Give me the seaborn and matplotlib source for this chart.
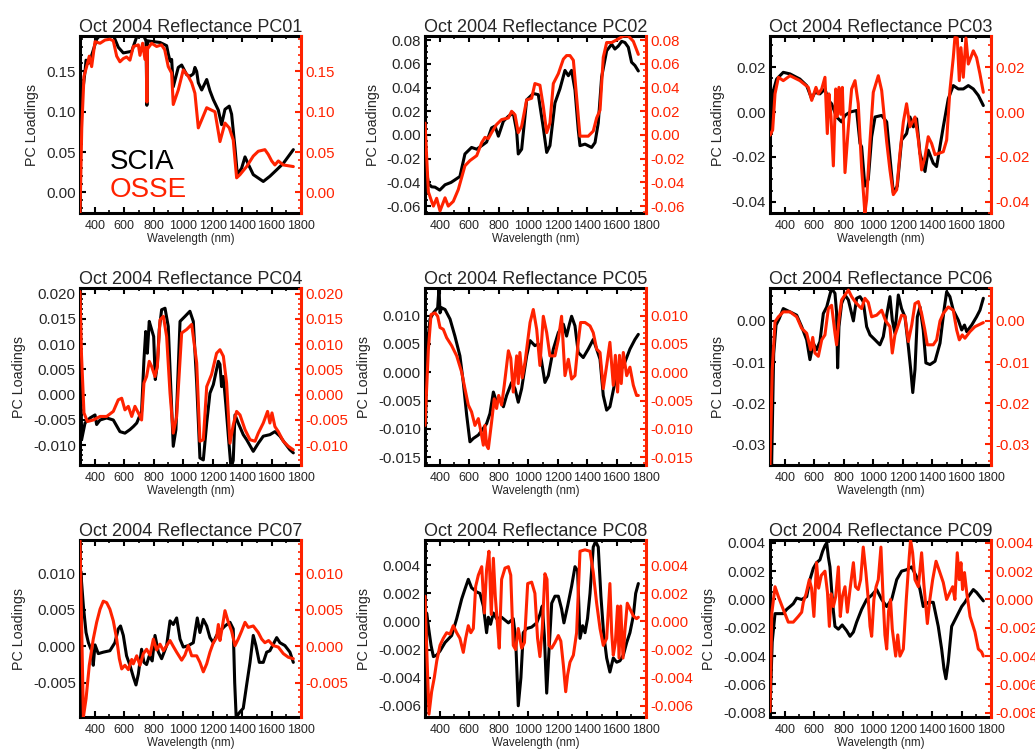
"""
Oct 2004 reflectance PC loadings: SCIA vs OSSE (3x3 panels)
"""
import matplotlib
matplotlib.use("Agg")
import matplotlib.pyplot as plt
from matplotlib.ticker import MultipleLocator, FuncFormatter
import seaborn as sns

sns.set_theme(style="ticks")
plt.rcParams["font.family"] = ["Liberation Sans", "DejaVu Sans"]
plt.rcParams["axes.unicode_minus"] = False

RED = "#FF2200"

# ── data ─────────────────────────────────────────────────────────────────────
PC01_SCIA_WL = [300, 310, 322, 334, 341, 357, 379, 413, 436, 526, 560, 594, 651, 662, 685, 730, 748, 754,
                759, 798, 843, 888, 899, 911, 922, 933, 967, 990, 1024, 1046, 1069, 1080, 1092, 1103, 1126,
                1160, 1182, 1205, 1239, 1261, 1284, 1313, 1329, 1352, 1368, 1397, 1420, 1442, 1476, 1544,
                1589, 1635, 1680, 1748]
PC01_SCIA = [0.100, 0.125, 0.131, 0.150, 0.164, 0.160, 0.170, 0.190, 0.195, 0.195, 0.180, 0.173, 0.175,
             0.181, 0.193, 0.195, 0.188, 0.108, 0.188, 0.187, 0.186, 0.182, 0.172, 0.163, 0.165, 0.131,
             0.155, 0.158, 0.146, 0.144, 0.147, 0.155, 0.150, 0.136, 0.127, 0.140, 0.126, 0.115, 0.102,
             0.084, 0.103, 0.107, 0.097, 0.055, 0.022, 0.030, 0.044, 0.035, 0.022, 0.0135, 0.020, 0.028,
             0.036, 0.053]
PC01_OSSE_WL = [300, 312, 327, 345, 363, 379, 402, 436, 470, 503, 526, 549, 571, 594, 616, 639, 662, 696,
                707, 725, 741, 750, 754, 758, 786, 820, 853, 875, 899, 922, 933, 967, 1001, 1035, 1058,
                1080, 1103, 1126, 1160, 1193, 1216, 1250, 1284, 1313, 1340, 1363, 1386, 1431, 1476, 1510,
                1555, 1578, 1601, 1623, 1646, 1680, 1748]
PC01_OSSE = [-0.026, 0.080, 0.144, 0.156, 0.169, 0.156, 0.187, 0.185, 0.189, 0.190, 0.188, 0.169, 0.162,
             0.166, 0.168, 0.164, 0.181, 0.183, 0.170, 0.185, 0.165, 0.180, 0.112, 0.178, 0.185, 0.181,
             0.183, 0.177, 0.156, 0.148, 0.109, 0.127, 0.152, 0.144, 0.136, 0.123, 0.080, 0.090, 0.105,
             0.102, 0.100, 0.063, 0.086, 0.080, 0.065, 0.018, 0.022, 0.032, 0.045, 0.051, 0.053, 0.047,
             0.039, 0.034, 0.039, 0.034, 0.032]

PC02_SCIA_WL = [310, 323, 345, 368, 400, 436, 477, 537, 571, 616, 651, 685, 718, 752, 775, 798, 832, 866,
                899, 922, 933, 956, 990, 1035, 1069, 1103, 1126, 1148, 1182, 1216, 1250, 1273, 1295, 1318,
                1340, 1352, 1386, 1431, 1454, 1476, 1499, 1533, 1567, 1589, 1612, 1635, 1657, 1680, 1702,
                1725, 1748]
PC02_SCIA = [-0.030, -0.041, -0.0437, -0.044, -0.0465, -0.042, -0.040, -0.035, -0.016, -0.0105, -0.012,
             -0.009, -0.006, 0.006, 0.0075, -0.001, 0.0116, 0.0158, 0.0185, 0.0033, -0.016, -0.012, 0.0296,
             0.035, 0.034, 0.006, -0.0147, -0.009, 0.027, 0.039, 0.0545, 0.050, 0.0545, 0.038, 0.0047,
             -0.009, -0.0077, -0.0105, -0.0064, 0.0102, 0.049, 0.071, 0.0766, 0.0725, 0.075, 0.079, 0.078,
             0.074, 0.0614, 0.0586, 0.054]
PC02_OSSE_WL = [300, 323, 345, 357, 379, 402, 436, 458, 492, 526, 571, 605, 651, 685, 707, 730, 752, 786,
                820, 866, 888, 911, 933, 956, 990, 1024, 1046, 1080, 1103, 1126, 1148, 1171, 1205, 1239,
                1261, 1284, 1307, 1329, 1352, 1408, 1442, 1465, 1488, 1510, 1533, 1567, 1612, 1646, 1680,
                1714, 1748]
PC02_OSSE = [0.010, -0.048, -0.056, -0.060, -0.0534, -0.064, -0.053, -0.060, -0.056, -0.046, -0.026,
             -0.0216, -0.0174, -0.0064, -0.002, -0.003, 0.002, 0.0089, 0.013, 0.0144, 0.020, 0.017, 0.002,
             0.0075, 0.0296, 0.031, 0.0434, 0.042, 0.024, 0.002, 0.010, 0.0434, 0.0517, 0.064, 0.067,
             0.067, 0.063, 0.032, -0.001, -0.001, 0.0033, 0.0144, 0.021, 0.0655, 0.078, 0.078, 0.081,
             0.0835, 0.0835, 0.079, 0.068]

PC03_SCIA_WL = [300, 323, 345, 390, 436, 503, 549, 583, 605, 639, 673, 696, 718, 752, 786, 809, 843, 888,
                911, 922, 944, 967, 990, 1013, 1058, 1092, 1114, 1137, 1164, 1193, 1227, 1250, 1273, 1295,
                1318, 1352, 1374, 1408, 1431, 1476, 1510, 1544, 1578, 1612, 1646, 1680, 1714, 1748]
PC03_SCIA = [-0.0088, 0.0096, 0.0147, 0.0177, 0.017, 0.0147, 0.0118, 0.0059, 0.0088, 0.0081, 0.0103,
             0.0052, 0.0037, -0.0022, -0.0044, -0.0015, 0.0, 0.0007, -0.014, -0.0155, -0.033, -0.030,
             -0.011, -0.0022, -0.0015, -0.0044, -0.020, -0.036, -0.033, -0.0125, -0.0096, -0.0022, -0.0066,
             -0.003, -0.0184, -0.0265, -0.017, -0.0228, -0.0243, -0.0066, 0.0059, 0.0118, 0.0103, 0.0103,
             0.0118, 0.0103, 0.0074, 0.0029]
PC03_OSSE_WL = [300, 318, 334, 357, 390, 436, 503, 560, 583, 612, 628, 651, 673, 689, 700, 714, 730, 746,
                757, 768, 780, 791, 809, 832, 854, 877, 899, 922, 944, 956, 979, 1001, 1035, 1058, 1092,
                1114, 1137, 1160, 1182, 1205, 1227, 1250, 1284, 1307, 1329, 1352, 1374, 1397, 1420, 1476,
                1499, 1521, 1544, 1555, 1571, 1585, 1596, 1612, 1630, 1646, 1680, 1702, 1725, 1748]
PC03_OSSE = [-0.0103, -0.008, 0.0081, 0.0155, 0.014, 0.0162, 0.014, 0.011, 0.0052, 0.011, 0.0081, 0.0103,
             0.0155, -0.0096, 0.0081, -0.002, -0.024, 0.0103, -0.002, 0.011, -0.001, 0.011, -0.027,
             -0.0066, 0.0103, 0.014, 0.0037, -0.025, -0.045, -0.039, -0.0125, 0.0088, 0.0162, 0.0096,
             -0.0133, -0.0258, -0.0368, -0.0346, -0.0184, -0.0044, 0.0037, -0.0066, -0.0022, -0.0125,
             -0.0258, -0.020, -0.011, -0.014, -0.019, -0.0177, -0.0125, 0.0096, 0.0243, 0.0332, 0.033,
             0.014, 0.0287, 0.0155, 0.033, 0.0214, 0.0273, 0.0243, 0.017, 0.0088]

PC04_SCIA_WL = [300, 311, 334, 368, 402, 413, 436, 481, 526, 571, 605, 639, 662, 685, 718, 734, 746, 757,
                770, 786, 800, 811, 825, 838, 854, 877, 899, 915, 933, 951, 979, 1013, 1046, 1069, 1092,
                1114, 1137, 1160, 1182, 1205, 1239, 1250, 1261, 1273, 1290, 1307, 1325, 1340, 1352, 1374,
                1408, 1431, 1476, 1510, 1544, 1589, 1623, 1657, 1691, 1725, 1748]
PC04_SCIA = [0.0178, -0.0089, -0.0056, -0.0046, -0.004, -0.0059, -0.005, -0.0046, -0.005, -0.0073,
             -0.0076, -0.0069, -0.0063, -0.0056, -0.0033, 0.0069, 0.0125, 0.0082, 0.0145, 0.0129, 0.0115,
             0.003, 0.006, 0.0129, 0.0168, 0.0171, 0.0135, 0.0023, -0.0102, -0.0069, 0.0145, 0.0155, 0.0165,
             0.0145, 0.0023, -0.0125, -0.0129, -0.0056, 0.0003, 0.002, 0.0066, 0.006, 0.0016, 0.0036,
             -0.002, -0.0082, -0.0145, -0.013, -0.004, -0.0056, -0.0079, -0.0089, -0.0112, -0.0096,
             -0.0082, -0.0079, -0.0073, -0.0082, -0.0096, -0.0109, -0.0115]
PC04_OSSE_WL = [300, 310, 327, 350, 390, 436, 481, 526, 560, 583, 605, 628, 651, 673, 696, 718, 734, 752,
                770, 786, 809, 825, 843, 866, 888, 911, 933, 956, 990, 1024, 1058, 1092, 1114, 1137, 1160,
                1193, 1227, 1250, 1273, 1295, 1318, 1340, 1363, 1386, 1420, 1454, 1488, 1510, 1544, 1573,
                1589, 1603, 1623, 1646, 1680, 1714, 1748]
PC04_OSSE = [0.0204, 0.008, -0.0036, -0.0053, -0.005, -0.0043, -0.0043, -0.0033, -0.001, -0.0007, -0.003,
             -0.0023, -0.0043, -0.0023, -0.0036, -0.005, 0.0023, 0.0036, 0.0066, 0.0056, 0.0036, 0.0056,
             0.0148, 0.0155, 0.0115, 0.0003, -0.0076, -0.0043, 0.0122, 0.0129, 0.0139, 0.0063, -0.0092,
             -0.0089, 0.0016, 0.004, 0.0082, 0.0089, 0.0076, 0.0023, -0.0096, -0.006, -0.0033, -0.004,
             -0.0069, -0.0089, -0.0092, -0.0076, -0.0056, -0.0033, -0.0056, -0.0036, -0.0063, -0.0073,
             -0.0092, -0.0102, -0.0109]

PC05_SCIA_WL = [300, 310, 334, 357, 386, 395, 402, 413, 436, 470, 503, 537, 560, 583, 605, 628, 662, 696,
                718, 741, 764, 786, 809, 832, 854, 888, 911, 933, 956, 990, 1013, 1046, 1069, 1092, 1114,
                1137, 1171, 1205, 1239, 1261, 1280, 1295, 1318, 1340, 1374, 1408, 1442, 1465, 1488, 1510,
                1533, 1555, 1589, 1623, 1657, 1691, 1725, 1748]
PC05_SCIA = [-0.0158, 0.003, 0.0094, 0.0105, 0.0114, 0.0149, 0.0105, 0.0114, 0.0111, 0.0094, 0.0064,
             0.0029, -0.0018, -0.0076, -0.0123, -0.0117, -0.0111, -0.0099, -0.0091, -0.0073, -0.0035,
             -0.0053, -0.0047, -0.0061, -0.0041, -0.0018, -0.0029, -0.0053, -0.0029, 0.0029, 0.0056,
             0.0047, 0.0050, 0.0018, -0.0018, -0.0006, 0.0041, 0.007, 0.0085, 0.0064, 0.0085, 0.0099,
             0.0082, 0.0035, 0.0026, 0.0041, 0.0058, 0.0041, 0.0023, -0.0041, -0.0067, -0.0061, -0.0018,
             0.0, 0.0018, 0.0041, 0.0058, 0.0067]
PC05_OSSE_WL = [300, 323, 341, 368, 386, 402, 424, 447, 481, 515, 549, 571, 594, 616, 639, 662, 680, 696,
                707, 718, 730, 752, 770, 786, 800, 820, 838, 866, 882, 899, 922, 933, 944, 960, 979, 1013,
                1035, 1058, 1080, 1103, 1126, 1148, 1182, 1205, 1227, 1250, 1273, 1295, 1318, 1340, 1356,
                1386, 1420, 1442, 1465, 1488, 1510, 1533, 1555, 1578, 1592, 1607, 1620, 1632, 1646, 1669,
                1691, 1714, 1736, 1748]
PC05_OSSE = [-0.0094, 0.0041, 0.0102, 0.0105, 0.0099, 0.0079, 0.0076, 0.0061, 0.0047, 0.0029, 0.0,
             -0.0029, -0.0058, -0.007, -0.0094, -0.0082, -0.0105, -0.0129, -0.0094, -0.0129, -0.0135,
             -0.0088, -0.0047, -0.0064, -0.0041, -0.0058, -0.0023, 0.0038, 0.0025, -0.0035, 0.0029, -0.002,
             0.0035, -0.001, 0.0018, 0.0088, 0.0111, 0.0076, 0.0012, 0.0099, 0.007, 0.0029, 0.0029, 0.0058,
             0.0099, -0.0006, 0.0023, -0.0012, -0.0006, 0.0053, 0.0088, 0.0088, 0.0082, 0.007, 0.0041,
             0.0035, -0.0029, 0.0012, 0.0053, -0.0023, 0.003, -0.0035, 0.003, -0.002, 0.0035, -0.0006,
             0.0009, -0.0023, -0.0041, -0.0041]

PC06_SCIA_WL = [300, 311, 325, 341, 363, 390, 436, 481, 515, 549, 571, 594, 616, 639, 662, 685, 703, 718,
                741, 752, 759, 768, 786, 809, 832, 866, 888, 911, 933, 956, 979, 1013, 1046, 1069, 1092,
                1114, 1130, 1148, 1171, 1193, 1216, 1239, 1255, 1269, 1284, 1300, 1318, 1340, 1358, 1386,
                1420, 1454, 1481, 1499, 1521, 1544, 1578, 1601, 1620, 1635, 1669, 1702, 1725, 1748]
PC06_SCIA = [-0.0262, -0.035, -0.008, -0.001, 0.0006, 0.003, 0.0022, 0.0014, -0.0014, -0.0046, -0.0094,
             -0.0054, -0.007, -0.005, 0.0018, 0.0034, 0.0059, 0.0079, 0.0067, 0.002, -0.0114, -0.0014,
             0.0042, 0.0063, 0.0051, 0.0, 0.0055, 0.0059, 0.0047, -0.0014, -0.0034, -0.0046, -0.0058,
             -0.0038, 0.0014, 0.0059, 0.0002, -0.003, 0.0063, 0.003, 0.001, -0.0062, -0.0118, -0.0174,
             -0.0118, 0.001, 0.0034, -0.0022, -0.0102, -0.0106, -0.0098, -0.0054, 0.0026, 0.0071, 0.0059,
             0.0026, 0.0002, -0.0022, -0.001, -0.0026, -0.001, 0.001, 0.0026, 0.0055]
PC06_OSSE_WL = [300, 315, 334, 357, 390, 436, 481, 515, 549, 576, 590, 605, 628, 651, 673, 696, 718, 741,
                752, 770, 786, 809, 832, 854, 877, 899, 922, 944, 967, 990, 1024, 1058, 1085, 1114, 1130,
                1148, 1171, 1193, 1216, 1239, 1262, 1284, 1307, 1329, 1350, 1368, 1408, 1431, 1454, 1476,
                1510, 1544, 1567, 1585, 1605, 1623, 1657, 1691, 1748]
PC06_OSSE = [-0.035, -0.012, -0.0002, 0.001, 0.0022, 0.0022, 0.001, -0.0018, -0.003, -0.007, -0.004,
             -0.0078, -0.0086, -0.0046, -0.0034, 0.003, 0.0038, -0.003, -0.0058, 0.001, 0.0051, 0.0063,
             0.0075, 0.0059, 0.0047, 0.0038, 0.003, 0.0055, 0.0045, 0.001, 0.0014, 0.0026, 0.0, -0.0014,
             -0.0078, -0.0034, -0.001, 0.0014, 0.0012, -0.005, -0.001, 0.0042, 0.0047, 0.0018, -0.002,
             -0.0058, -0.0058, -0.0046, 0.0, 0.0018, 0.0034, 0.0026, -0.0022, -0.0046, -0.0034, -0.0042,
             -0.0026, -0.0014, -0.0004]

PC07_SCIA_WL = [300, 305, 323, 341, 357, 379, 390, 402, 424, 458, 503, 537, 560, 575, 594, 616, 639, 662,
                680, 696, 718, 734, 752, 770, 790, 809, 832, 854, 888, 911, 933, 956, 979, 1001, 1035, 1069,
                1096, 1114, 1137, 1160, 1182, 1205, 1227, 1250, 1284, 1318, 1340, 1350, 1360, 1386, 1408,
                1431, 1454, 1476, 1494, 1517, 1544, 1567, 1589, 1612, 1635, 1657, 1691, 1725, 1748]
PC07_SCIA = [-0.009, 0.0103, 0.0055, 0.0019, 0.0005, -0.0006, -0.0026, 0.0002, -0.001, -0.0008, -0.0006,
             0.0005, 0.0024, 0.0028, 0.0015, -0.0013, -0.0026, -0.0042, -0.0053, -0.0038, -0.0004, -0.0022,
             -0.0025, -0.0013, -0.002, 0.0015, -0.0008, -0.0017, 0.0001, 0.0035, 0.003, 0.0039, 0.001,
             -0.0001, 0.0001, 0.0005, 0.0039, 0.0019, 0.0037, 0.0028, 0.0012, 0.0005, 0.0015, 0.0021,
             0.0028, 0.0033, 0.0024, -0.005, -0.0097, -0.009, -0.0085, -0.0053, -0.0022, 0.0015, 0.0001,
             -0.0022, -0.0022, -0.0008, -0.0006, 0.0003, 0.0012, 0.0005, 0.0001, -0.0008, -0.0022]
PC07_OSSE_WL = [300, 323, 341, 363, 390, 413, 436, 458, 481, 503, 526, 549, 567, 583, 605, 628, 651, 662,
                685, 707, 730, 752, 775, 798, 820, 843, 866, 888, 911, 933, 956, 990, 1012, 1035, 1058, 1092,
                1114, 1137, 1160, 1182, 1205, 1227, 1239, 1250, 1262, 1284, 1307, 1329, 1352, 1374, 1397,
                1420, 1442, 1476, 1510, 1533, 1555, 1580, 1612, 1646, 1680, 1714, 1748]
PC07_OSSE = [0.0146, -0.0097, -0.0072, -0.0026, 0.001, 0.0033, 0.0051, 0.0062, 0.006, 0.0051, 0.0035,
             0.001, -0.0017, -0.0031, -0.0026, -0.0032, -0.0018, -0.0024, -0.0013, -0.0026, -0.001, -0.0004,
             -0.0012, 0.001, -0.0005, 0.0003, -0.0006, 0.0001, 0.0008, 0.0, -0.0008, -0.0019, -0.0012,
             0.0001, -0.0013, -0.0013, -0.0022, -0.0035, -0.0024, -0.0008, 0.0005, 0.0012, 0.003, 0.0008,
             0.0022, 0.0049, 0.0033, 0.0021, 0.0001, 0.001, 0.0021, 0.0033, 0.0026, 0.0028, 0.0019, 0.001,
             0.0005, 0.0008, 0.0001, -0.0001, -0.001, -0.0015, -0.0017]

PC08_SCIA_WL = [300, 311, 325, 341, 357, 379, 402, 436, 481, 515, 549, 571, 594, 616, 651, 673, 696, 718,
                730, 745, 764, 786, 820, 866, 899, 915, 933, 951, 967, 990, 1024, 1058, 1080, 1096, 1110,
                1126, 1141, 1160, 1182, 1205, 1227, 1243, 1268, 1295, 1318, 1336, 1352, 1370, 1386, 1403,
                1420, 1442, 1458, 1476, 1494, 1512, 1533, 1555, 1578, 1601, 1623, 1646, 1669, 1691, 1714,
                1730, 1748]
PC08_SCIA = [-0.0065, 0.0006, -0.0005, -0.0017, -0.0025, -0.0024, -0.0021, -0.0015, -0.001, 0.0002,
             0.0016, 0.0023, 0.003, 0.0024, 0.0021, 0.002, 0.0011, -0.0008, 0.0003, -0.0002, 0.0006, 0.0002,
             0.0003, -0.0001, 0.0002, -0.0012, -0.006, -0.004, -0.0008, -0.0005, -0.0004, -0.0001, 0.0005,
             0.0011, -0.001, -0.0051, -0.0022, 0.0013, 0.0018, 0.0018, 0.0009, -0.0001, 0.0011, 0.0025,
             0.0039, 0.0036, -0.0012, -0.0003, -0.0008, 0.0002, 0.002, 0.0053, 0.0057, 0.0053, 0.0018,
             -0.0008, -0.0026, -0.0036, -0.0026, -0.0029, -0.0028, -0.0024, -0.0015, -0.0008, 0.0004,
             0.002, 0.0027]
PC08_OSSE_WL = [300, 315, 327, 345, 363, 380, 402, 424, 447, 470, 492, 515, 537, 560, 576, 594, 611, 628,
                644, 662, 685, 703, 718, 734, 750, 764, 777, 791, 804, 820, 843, 866, 882, 899, 915, 933,
                956, 975, 997, 1024, 1046, 1064, 1080, 1096, 1114, 1128, 1141, 1160, 1182, 1205, 1222, 1239,
                1255, 1268, 1284, 1307, 1329, 1352, 1386, 1420, 1442, 1465, 1488, 1510, 1533, 1555, 1567,
                1578, 1592, 1607, 1617, 1628, 1644, 1658, 1673, 1691, 1714, 1736, 1748]
PC08_OSSE = [0.0018, -0.003, -0.0066, -0.005, -0.004, -0.0028, -0.0017, -0.0012, -0.0008, -0.0009,
             -0.0003, -0.0008, -0.0012, -0.0022, -0.0012, -0.0003, -0.0008, -0.0005, 0.0025, 0.0033, 0.0039,
             0.0006, 0.0037, 0.005, 0.0005, 0.0045, 0.0018, -0.0001, -0.0019, 0.003, 0.0038, 0.0039, 0.0033,
             -0.0017, -0.002, -0.0005, -0.0019, -0.0015, 0.0027, 0.0028, 0.002, -0.0012, -0.0025, -0.0005,
             0.0034, 0.003, -0.0017, -0.0019, -0.0015, -0.001, -0.0014, -0.0031, -0.005, -0.0038, -0.0029,
             -0.0024, -0.0008, 0.005, 0.0051, 0.005, 0.0035, 0.0013, -0.0005, -0.0017, -0.0012, 0.0027,
             -0.0008, -0.0024, -0.0015, 0.0011, -0.0026, 0.0011, -0.0026, -0.0005, 0.0013, 0.0009, 0.0004,
             0.0002, 0.0003]

PC09_SCIA_WL = [300, 315, 334, 357, 390, 413, 436, 458, 481, 515, 549, 571, 594, 616, 639, 657, 673, 685,
                696, 707, 718, 730, 741, 764, 790, 820, 843, 866, 888, 922, 956, 990, 1024, 1058, 1092, 1126,
                1160, 1193, 1227, 1261, 1295, 1318, 1340, 1374, 1408, 1442, 1465, 1481, 1494, 1510, 1533,
                1567, 1601, 1623, 1646, 1680, 1702, 1725, 1748]
PC09_SCIA = [-0.0079, -0.003, -0.001, -0.001, -0.001, -0.0007, -0.0005, -0.0003, 0.0001, 0.0, 0.0002,
             0.0014, 0.0022, 0.0026, 0.0028, 0.0034, 0.0038, 0.004, 0.003, 0.0023, 0.0007, -0.0008, -0.0019,
             -0.0021, -0.0018, -0.0022, -0.0026, -0.0023, -0.0016, -0.0007, 0.0, 0.0003, 0.0007, 0.0,
             -0.0005, 0.0, 0.0014, 0.002, 0.0021, 0.0023, 0.0016, 0.0007, -0.0005, -0.0002, -0.0002,
             -0.0019, -0.0035, -0.0049, -0.0056, -0.0044, -0.0019, -0.0012, -0.0005, -0.0002, 0.0002,
             0.0007, 0.0005, 0.0002, -0.0001]
PC09_OSSE_WL = [300, 312, 334, 357, 390, 424, 458, 492, 515, 526, 545, 567, 582, 598, 616, 630, 648, 673,
                690, 703, 715, 730, 746, 764, 777, 791, 809, 825, 843, 866, 880, 899, 915, 933, 951, 967,
                979, 990, 1005, 1020, 1035, 1053, 1068, 1080, 1092, 1105, 1118, 1130, 1153, 1167, 1182, 1205,
                1225, 1245, 1254, 1268, 1284, 1307, 1329, 1345, 1368, 1385, 1404, 1427, 1450, 1476, 1499,
                1521, 1540, 1555, 1571, 1585, 1596, 1607, 1620, 1635, 1658, 1691, 1714, 1736, 1748]
PC09_OSSE = [-0.0079, -0.001, 0.0009, 0.0002, -0.0007, -0.0016, -0.0016, -0.0012, -0.0009, -0.0002,
             0.0004, 0.0014, 0.0008, -0.0012, 0.0026, 0.0008, 0.0017, 0.002, 0.0005, -0.0019, 0.0004,
             -0.0005, 0.0002, 0.0023, -0.0012, 0.0002, 0.0009, -0.0009, 0.0007, 0.0026, 0.0009, 0.0007,
             0.0014, 0.0037, 0.0019, 0.0, -0.0019, -0.0026, 0.0, 0.0009, 0.0014, 0.0037, 0.0, -0.0025,
             -0.0035, -0.0008, 0.0, -0.0021, -0.004, -0.0025, -0.004, -0.0035, 0.0, 0.003, 0.0042, 0.0033,
             0.0014, 0.0009, 0.0033, 0.001, -0.0017, 0.0, 0.0014, 0.0027, 0.002, 0.0012, 0.0, 0.0005,
             0.0009, 0.0, 0.0033, 0.0014, 0.0026, 0.0007, 0.0019, 0.0005, -0.0012, -0.0023, -0.0035,
             -0.0037, -0.004]

TITLES = [f"Oct 2004 Reflectance PC{i:02d}" for i in range(1, 10)]
YLIMS = [(-0.0256, 0.194), (-0.0658, 0.0835), (-0.045, 0.0339),
         (-0.0139, 0.0211), (-0.0164, 0.0149), (-0.035, 0.0080),
         (-0.0097, 0.0146), (-0.0068, 0.0058), (-0.0083, 0.0042)]
YSTEPS = [0.05, 0.02, 0.02, 0.005, 0.005, 0.01, 0.005, 0.002, 0.002]
YDEC = [2, 2, 2, 3, 3, 2, 3, 3, 3]

PANELS = [
    (PC01_SCIA_WL, PC01_SCIA, PC01_OSSE_WL, PC01_OSSE),
    (PC02_SCIA_WL, PC02_SCIA, PC02_OSSE_WL, PC02_OSSE),
    (PC03_SCIA_WL, PC03_SCIA, PC03_OSSE_WL, PC03_OSSE),
    (PC04_SCIA_WL, PC04_SCIA, PC04_OSSE_WL, PC04_OSSE),
    (PC05_SCIA_WL, PC05_SCIA, PC05_OSSE_WL, PC05_OSSE),
    (PC06_SCIA_WL, PC06_SCIA, PC06_OSSE_WL, PC06_OSSE),
    (PC07_SCIA_WL, PC07_SCIA, PC07_OSSE_WL, PC07_OSSE),
    (PC08_SCIA_WL, PC08_SCIA, PC08_OSSE_WL, PC08_OSSE),
    (PC09_SCIA_WL, PC09_SCIA, PC09_OSSE_WL, PC09_OSSE),
]

# ── layout (pixels of a 1035x749 canvas) ─────────────────────────────────────
W, H = 1035.0, 749.0
COL_LEFT = [80, 425, 770]
ROW_TOP = [36, 288, 540]
AX_W, AX_H = 221, 177


def make_fmt(dec):
    return FuncFormatter(lambda v, p: f"{0.0 if abs(v) < 1e-12 else v:.{dec}f}")


fig = plt.figure(figsize=(10.35, 7.49), dpi=100)

for i, (sw, sv, ow, ov) in enumerate(PANELS):
    r, c = divmod(i, 3)
    ax = fig.add_axes([COL_LEFT[c] / W, 1 - (ROW_TOP[r] + AX_H) / H, AX_W / W, AX_H / H])
    ax2 = ax.twinx()

    sns.lineplot(x=sw, y=sv, ax=ax, color="black", linewidth=2.2, estimator=None, sort=False)
    sns.lineplot(x=ow, y=ov, ax=ax2, color=RED, linewidth=2.2, estimator=None, sort=False)

    step = YSTEPS[i]
    nminor = 4 if step in (0.02, 0.002) else 5
    for a in (ax, ax2):
        a.set_xlim(300, 1800)
        a.set_ylim(*YLIMS[i])
        a.yaxis.set_major_locator(MultipleLocator(step))
        a.yaxis.set_minor_locator(MultipleLocator(step / nminor))
        a.yaxis.set_major_formatter(make_fmt(YDEC[i]))
    ax.xaxis.set_major_locator(MultipleLocator(200))
    ax.xaxis.set_minor_locator(MultipleLocator(100))

    ax.tick_params(axis="both", which="both", direction="in", top=True, right=False, color="black")
    ax.tick_params(axis="x", which="major", length=4, width=1.5, labelsize=9, pad=5)
    ax.tick_params(axis="x", which="minor", length=2.2, width=1.2)
    ax.tick_params(axis="y", which="major", length=4, width=1.5, labelsize=10.8, pad=3)
    ax.tick_params(axis="y", which="minor", length=2.2, width=1.2)
    ax2.tick_params(axis="y", which="both", direction="in", colors=RED, labelsize=10.8, pad=3)
    ax2.tick_params(axis="y", which="major", length=4, width=1.5)
    ax2.tick_params(axis="y", which="minor", length=2.2, width=1.2)

    for s in ("left", "top", "bottom"):
        ax.spines[s].set_linewidth(2.2)
        ax.spines[s].set_color("black")
        ax2.spines[s].set_visible(False)
    ax.spines["right"].set_visible(False)
    ax2.spines["right"].set_visible(True)
    ax2.spines["right"].set_linewidth(2.2)
    ax2.spines["right"].set_color(RED)

    ax.set_title(TITLES[i], fontsize=13, pad=3)
    ax.set_xlabel("Wavelength (nm)", fontsize=8.3, labelpad=1)
    ax.set_ylabel("PC Loadings", fontsize=10.3, labelpad=5)
    ax2.set_ylabel("")

    if i == 0:
        ax2.text(504, 0.0295, "SCIA", fontsize=20, color="black", va="baseline")
        ax2.text(504, -0.0057, "OSSE", fontsize=20, color=RED, va="baseline")

fig.savefig("out.png", dpi=100)
